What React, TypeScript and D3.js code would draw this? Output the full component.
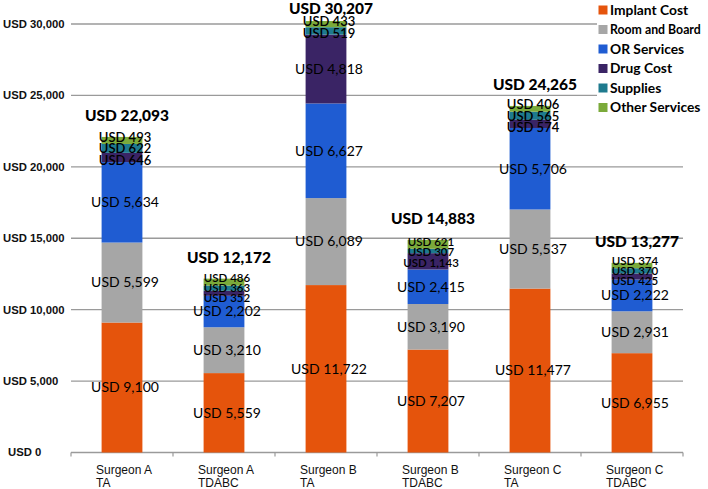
import React from 'react';
import * as d3 from 'd3';

const catLine1 = ['Surgeon A', 'Surgeon A', 'Surgeon B', 'Surgeon B', 'Surgeon C', 'Surgeon C'];
const catLine2 = ['TA', 'TDABC', 'TA', 'TDABC', 'TA', 'TDABC'];
const seriesNames = ['Implant Cost', 'Room and Board', 'OR Services', 'Drug Cost', 'Supplies', 'Other Services'];
const implantCost = [9100, 5559, 11722, 7207, 11477, 6955];
const roomAndBoard = [5599, 3210, 6089, 3190, 5537, 2931];
const orServices = [5634, 2202, 6627, 2415, 5706, 2222];
const drugCost = [646, 352, 4818, 1143, 574, 425];
const supplies = [622, 363, 519, 307, 565, 370];
const otherServices = [493, 486, 433, 621, 406, 374];
const totals = [22093, 12172, 30207, 14883, 24265, 13277];
const yTicks = [0, 5000, 10000, 15000, 20000, 25000, 30000];

const colors = ['#E5540C', '#A6A6A6', '#1F5CD2', '#3A2465', '#1E7A8E', '#7BAA3A'];

const W = 708;
const H = 489;

const fmt = (v: number) => 'USD ' + d3.format(',')(v);

export default function App() {
  const series = [implantCost, roomAndBoard, orServices, drugCost, supplies, otherServices];
  const idx = d3.range(catLine1.length);
  const x = d3.scaleBand<number>().domain(idx).range([71, 683]).paddingInner(0.6).paddingOuter(0.3);
  const y = d3.scaleLinear().domain([0, 30000]).range([452.5, 24]);
  const step = x.step();
  const x0 = 71;

  const table = idx.map((i) => {
    const row: any = { i };
    seriesNames.forEach((s, k) => (row[s] = series[k][i]));
    return row;
  });
  const stacked = d3.stack<any>().keys(seriesNames)(table);

  const barLabels = idx.map((i) => {
    const small = catLine2[i] === 'TDABC' ? 11.5 : 13;
    const items = stacked.map((layer, k) => {
      const d = layer[i];
      const v = series[k][i];
      const big = v >= 2000;
      return {
        k,
        text: fmt(v),
        y: (y(d[0]) + y(d[1])) / 2,
        size: big ? 14 : small,
      };
    });
    const sorted = [...items].sort((a, b) => a.y - b.y);
    for (let it = 0; it < 60; it++) {
      for (let j = 1; j < sorted.length; j++) {
        const a = sorted[j - 1];
        const b = sorted[j];
        const gap = ((a.size + b.size) / 2) * 0.9;
        const diff = b.y - a.y;
        if (diff < gap) {
          const s = (gap - diff) / 2;
          a.y -= s;
          b.y += s;
        }
      }
    }
    return items;
  });

  const legendY0 = 10;
  const legendStep = 19.5;

  return (
    <svg
      width={W}
      height={H}
      style={{ position: 'absolute', left: 0, top: 0, background: '#fff' }}
      xmlns="http://www.w3.org/2000/svg"
    >
      {yTicks.map((t) => (
        <line key={'g' + t} x1={x0} x2={683} y1={y(t)} y2={y(t)} stroke="#9a9a9a" strokeWidth={1.3} />
      ))}
      {d3.range(catLine1.length + 1).map((j) => (
        <line key={'xt' + j} x1={x0 + j * step} x2={x0 + j * step} y1={y(0)} y2={y(0) + 4} stroke="#9a9a9a" strokeWidth={1.2} />
      ))}
      {yTicks.map((t) => (
        <text
          key={'yl' + t}
          x={t === 0 ? 8 : 3}
          y={y(t)}
          dy="0.35em"
          fontFamily="Liberation Sans, Arial, sans-serif"
          fontWeight="bold"
          fontSize={11.3}
          fill="#111"
        >
          {fmt(t)}
        </text>
      ))}
      {stacked.map((layer, k) => (
        <g key={'s' + k} fill={colors[k]}>
          {layer.map((d, i) => (
            <rect key={i} x={x(i)} width={x.bandwidth()} y={y(d[1])} height={y(d[0]) - y(d[1])} />
          ))}
        </g>
      ))}
      {barLabels.map((items, i) =>
        items.map((it) => (
          <text
            key={'l' + i + '-' + it.k}
            x={(x(i) as number) + x.bandwidth() / 2 + 3}
            y={it.y}
            dy="0.35em"
            textAnchor="middle"
            fontFamily="Lato, sans-serif"
            fontWeight={it.size < 14 ? 600 : 400}
            fontSize={it.size}
            fill="#000"
          >
            {it.text}
          </text>
        ))
      )}
      {totals.map((t, i) => {
        const top = y(stacked[stacked.length - 1][i][1]);
        return (
          <text
            key={'t' + i}
            x={(x(i) as number) + x.bandwidth() / 2 + 5}
            y={Math.max(9, top - 21)}
            dy="0.35em"
            textAnchor="middle"
            fontFamily="Lato, sans-serif"
            fontWeight={900}
            fontSize={15.5}
            fill="#000"
          >
            {fmt(t)}
          </text>
        );
      })}
      {idx.map((i) => (
        <text
          key={'xl' + i}
          x={(x(i) as number) + x.bandwidth() / 2 - 26}
          y={470}
          dy="0.35em"
          fontFamily="Liberation Sans, Arial, sans-serif"
          fontSize={12}
          fill="#111"
        >
          <tspan>{catLine1[i]}</tspan>
          <tspan x={(x(i) as number) + x.bandwidth() / 2 - 26} dy={13}>
            {catLine2[i]}
          </tspan>
        </text>
      ))}
      {seriesNames.map((s, k) => {
        const cy = legendY0 + k * legendStep;
        const fs = s === 'Room and Board' ? 12.3 : 13.8;
        return (
          <g key={'lg' + k}>
            <rect x={597} y={cy - 8} width={111} height={16} fill="#fff" />
            <rect x={598.5} y={cy - 4.5} width={9} height={9} fill={colors[k]} />
            <text x={610} y={cy} dy="0.35em" fontFamily="Lato, sans-serif" fontWeight="bold" fontSize={fs} fill="#000">
              {s}
            </text>
          </g>
        );
      })}
    </svg>
  );
}
